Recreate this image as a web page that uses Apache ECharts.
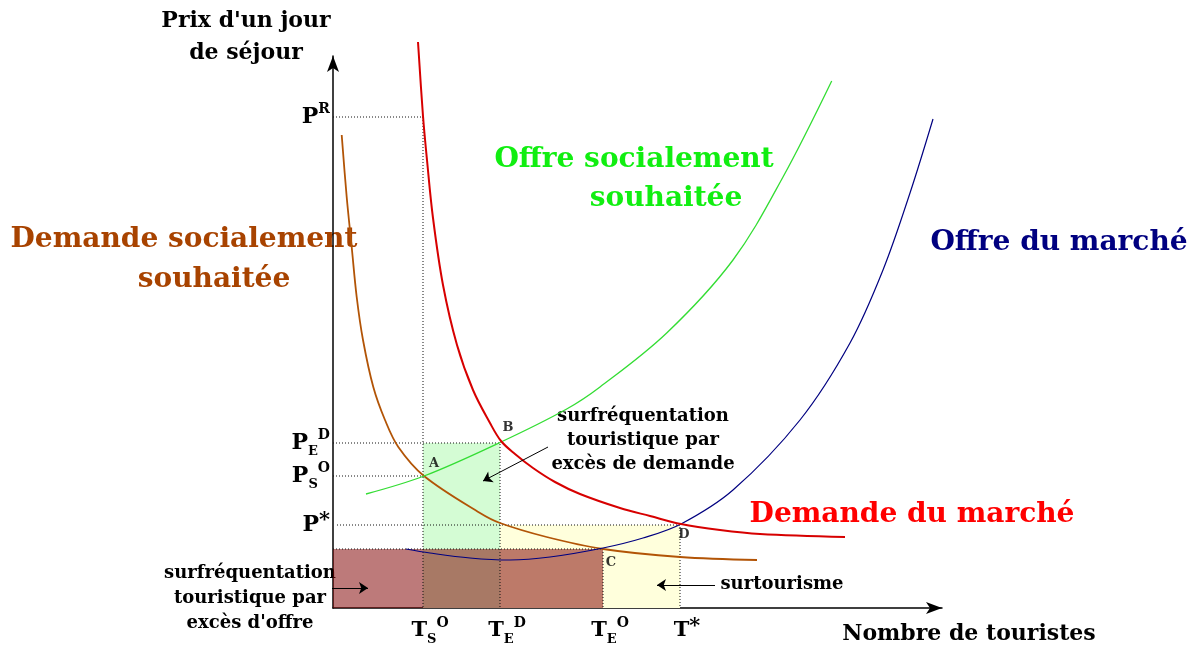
<!DOCTYPE html>
<html>
<head>
<meta charset="utf-8">
<script src="https://cdn.jsdelivr.net/npm/echarts@6/dist/echarts.min.js"></script>
<style>
html, body { margin: 0; padding: 0; background: #fff; }
#chart { width: 1197px; height: 648px; }
</style>
</head>
<body>
<div id="chart"></div>
<script>
var xTickValues = [90, 167, 270, 347];
var xTickNames = ['{gap|}{t|T}{sub|S}{sup|O}', '{gap|}{t|T}{sub|E}{sup|D}', '{gap|}{t|T}{sub|E}{sup|O}', '{gap|}{t|T}{star|*}'];
var yTickValues = [59, 83, 132, 165, 491];
var yTickNames = ['{p|P}{sub|E}{sup|O}', '{p|P}{star|*}', '{p|P}{sub|S}{sup|O}', '{p|P}{sub|E}{sup|D}', '{p|P}{sup|R}'];

// courbes
var demandeMarche = [[85, 566], [90, 492], [94, 448], [100, 390], [110, 323], [124, 263], [140, 218],
  [157, 185], [168, 167], [182, 154], [200, 140], [222, 126], [247, 114], [287, 100], [317, 92],
  [348, 84], [387, 78], [427, 74], [512, 71]];
var demandeSociale = [[8.7, 473], [13.7, 411], [18.7, 361], [23.7, 311], [30, 268], [40.3, 221], [52, 188],
  [65.3, 161], [91, 132], [147, 95], [167, 85], [213.7, 71], [270, 59], [347, 51], [424, 48]];
var offreSociale = [[33, 114], [91, 132], [168, 166], [233.7, 199], [267, 221], [333.7, 275],
  [400, 348], [450, 431], [498.7, 527]];
var offreMarche = [[73, 59], [97, 55], [137, 50], [177, 48], [217, 51], [270, 60], [310, 70], [348, 84],
  [400, 118], [467, 188], [517, 265], [550, 338], [577, 415], [600, 489]];

// points d'intersection
var pointNames = ['A', 'B', 'C', 'D'];
var pointValues = [[91, 132], [168, 166], [270, 59], [348, 84]];

// zones (coin bas-gauche, coin haut-droit)
var zoneDemande = [[90, 0], [167, 165]];
var zoneSurtourisme = [[167, 0], [347, 83]];
var zoneOffre = [[0, 0], [270, 59]];

// pointillés de repérage
var guides = [
  [[0, 491], [90, 491], [90, 0]],
  [[0, 165], [167, 165], [167, 0]],
  [[-3, 132], [90, 132]],
  [[4, 83], [347, 83], [347, 0]],
  [[0, 59], [270, 59], [270, 0]]
];

// flèches des annotations
var arrows = [
  [[215, 161], [150, 127]],
  [[382, 23], [324, 23]],
  [[-8, 20], [35, 20]]
];

var serif = '"DejaVu Serif", "Liberation Serif", serif';
var labelOffsets = { A: [10, -12], B: [7, -14], C: [8, 14], D: [3, 11] };

var tickRich = {
  gap: { width: 14 },
  p: { fontFamily: serif, fontWeight: 'bold', fontSize: 22, lineHeight: 30, color: '#000' },
  t: { fontFamily: serif, fontWeight: 'bold', fontSize: 21, lineHeight: 30, color: '#000' },
  sub: { fontFamily: serif, fontWeight: 'bold', fontSize: 13, lineHeight: 14, verticalAlign: 'bottom', color: '#000' },
  sup: { fontFamily: serif, fontWeight: 'bold', fontSize: 14, lineHeight: 14, verticalAlign: 'top', color: '#000' },
  star: { fontFamily: serif, fontWeight: 'bold', fontSize: 21, lineHeight: 18, verticalAlign: 'top', color: '#000' }
};

function curve(data, color, width) {
  return {
    type: 'line', data: data, smooth: 0.35, showSymbol: false, clip: false, z: 3,
    lineStyle: { color: color, width: width }, silent: true
  };
}

function rectItem(zone, color) {
  return [{ coord: zone[0], itemStyle: { color: color } }, { coord: zone[1] }];
}

function bigText(x, y, text, color) {
  return { type: 'text', x: x, y: y, style: { text: text, font: 'bold 28px ' + serif, fill: color, align: 'center', verticalAlign: 'middle' } };
}

var chart = echarts.init(document.getElementById('chart'));

chart.setOption({
  animation: false,
  backgroundColor: '#fff',
  grid: { left: 333, right: 255, top: 56, bottom: 40, containLabel: false, outerBoundsMode: 'none' },
  xAxis: {
    type: 'value', min: 0, max: 609,
    axisLine: { symbol: ['none', 'arrow'], symbolSize: [9, 16], lineStyle: { color: '#000', width: 1.5 } },
    axisTick: { show: false },
    splitLine: { show: false },
    axisLabel: {
      customValues: xTickValues,
      margin: 8,
      formatter: function (v) { return xTickNames[xTickValues.indexOf(v)]; },
      rich: tickRich
    }
  },
  yAxis: {
    type: 'value', min: 0, max: 552,
    axisLine: { symbol: ['none', 'arrow'], symbolSize: [9, 16], lineStyle: { color: '#000', width: 1.5 } },
    axisTick: { show: false },
    splitLine: { show: false },
    axisLabel: {
      customValues: yTickValues,
      margin: 3,
      formatter: function (v) { return yTickNames[yTickValues.indexOf(v)]; },
      rich: tickRich
    }
  },
  series: [
    {
      type: 'line', data: [], z: 1, silent: true,
      markArea: {
        silent: true,
        data: [rectItem(zoneDemande, '#d4fcd4'), rectItem(zoneSurtourisme, '#ffffdc')]
      }
    },
    {
      type: 'lines', coordinateSystem: 'cartesian2d', polyline: true, z: 2, silent: true,
      lineStyle: { color: '#111', width: 1, type: [1, 2], opacity: 1 },
      data: guides.map(function (g) { return { coords: g }; })
    },
    curve(demandeSociale, '#b25406', 1.8),
    curve(offreSociale, '#33dd33', 1.3),
    curve(offreMarche, '#000080', 1.2),
    curve(demandeMarche, '#d70000', 2),
    {
      type: 'line', data: [], z: 4, silent: true,
      markArea: {
        silent: true,
        data: [rectItem(zoneOffre, 'rgba(128,0,0,0.52)')]
      }
    },
    {
      type: 'lines', coordinateSystem: 'cartesian2d', z: 5, silent: true,
      symbol: ['none', 'arrow'], symbolSize: 9,
      lineStyle: { color: '#000', width: 1, opacity: 1 },
      data: arrows.map(function (a) { return { coords: a }; })
    },
    {
      type: 'scatter', symbolSize: 0, z: 6, silent: true,
      data: pointNames.map(function (n, i) {
        return { name: n, value: pointValues[i], label: { offset: labelOffsets[n] } };
      }),
      label: {
        show: true, position: 'inside', formatter: '{b}',
        fontFamily: serif, fontWeight: 'bold', fontSize: 13, color: '#000'
      }
    }
  ],
  graphic: [
    { type: 'text', x: 246, y: 37, style: { text: "Prix d'un jour\nde séjour", font: 'bold 22px ' + serif, fill: '#000', align: 'center', verticalAlign: 'middle', lineHeight: 32 } },
    { type: 'text', x: 969, y: 634, style: { text: 'Nombre de touristes', font: 'bold 22px ' + serif, fill: '#000', align: 'center', verticalAlign: 'middle' } },
    bigText(634, 160, 'Offre socialement', '#11ee11'),
    bigText(666, 199, 'souhaitée', '#11ee11'),
    bigText(1059, 243, 'Offre du marché', '#000080'),
    bigText(184, 240, 'Demande socialement', '#a84300'),
    bigText(214, 280, 'souhaitée', '#a84300'),
    bigText(912, 515, 'Demande du marché', '#ff0000'),
    { type: 'text', x: 643, y: 440, style: { text: 'surfréquentation\ntouristique par\nexcès de demande', font: 'bold 18px ' + serif, fill: '#000', align: 'center', verticalAlign: 'middle', lineHeight: 24 } },
    { type: 'text', x: 782, y: 584, style: { text: 'surtourisme', font: 'bold 18px ' + serif, fill: '#000', align: 'center', verticalAlign: 'middle' } },
    { type: 'text', x: 250, y: 598, style: { text: "surfréquentation\ntouristique par\nexcès d'offre", font: 'bold 18px ' + serif, fill: '#000', align: 'center', verticalAlign: 'middle', lineHeight: 25 } }
  ]
});
</script>
</body>
</html>
